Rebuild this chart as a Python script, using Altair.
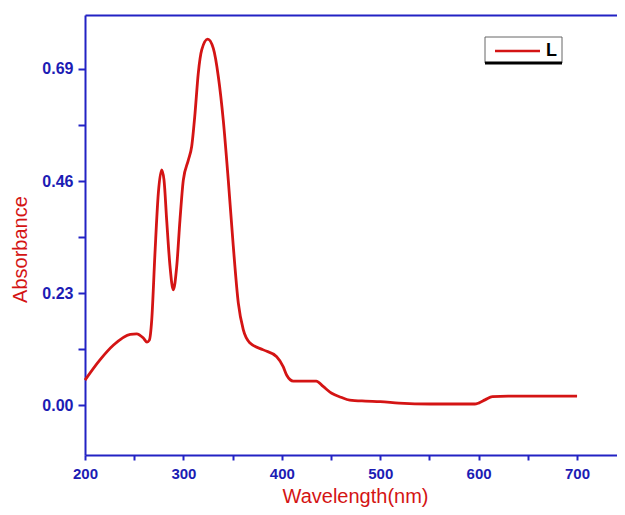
import altair as alt
import pandas as pd

wavelength = [200, 215, 229, 246, 252.5, 259, 263, 265.4, 267.8, 271.1, 274.5, 277.9, 280.3,
              283, 286.4, 289.7, 293.2, 296.5, 299.9, 305, 308.4, 311.8, 315.1, 318.6, 324.7,
              330.4, 335.5, 340.5, 345.6, 350.7, 355.8, 360.9, 367.7, 381.2, 394.8, 401.5, 405,
              411.7, 435, 442, 450.7, 460, 469, 485, 500, 519, 551, 596, 600, 607, 614, 630, 700]
absorbance = [0.052, 0.093, 0.124, 0.146, 0.147, 0.139, 0.130, 0.134, 0.175, 0.312, 0.435, 0.483, 0.462,
              0.380, 0.285, 0.237, 0.285, 0.380, 0.462, 0.503, 0.531, 0.599, 0.681, 0.729, 0.751,
              0.732, 0.674, 0.585, 0.462, 0.326, 0.210, 0.155, 0.128, 0.114, 0.100, 0.079, 0.062,
              0.050, 0.050, 0.039, 0.025, 0.017, 0.011, 0.009, 0.008, 0.005, 0.003, 0.003, 0.005, 0.012, 0.018, 0.019, 0.019]
series = ["L"] * len(wavelength)
legend_labels = ["L"]

x_ticks = [200, 250, 300, 350, 400, 450, 500, 550, 600, 650, 700]
y_ticks = [0, 0.115, 0.23, 0.345, 0.46, 0.575, 0.69]

df = pd.DataFrame({"wl": wavelength, "A": absorbance, "s": series})
leg_df = pd.DataFrame({"s": legend_labels})

BLUE = "#2222c4"
LABEL_BLUE = "#1c1cb4"
RED = "#d41414"

xscale = alt.Scale(domain=[200, 740.6], nice=False, zero=False)
yscale = alt.Scale(domain=[-0.1015, 0.8005], nice=False, zero=False)

base = alt.Chart(df)

line = base.mark_line(interpolate="monotone", strokeWidth=2.8, color=RED).encode(
    x=alt.X("wl:Q", scale=xscale,
            axis=alt.Axis(values=x_ticks, title="Wavelength(nm)",
                          labelExpr="datum.value % 100 == 0 ? datum.label : ''",
                          format="d", tickSize=5, labelPadding=6, labelFontSize=15,
                          labelFlush=False, labelOverlap=False,
                          titleX=270, titleY=41, titleBaseline="middle", titleAlign="center")),
    y=alt.Y("A:Q", scale=yscale,
            axis=alt.Axis(values=y_ticks, title="Absorbance",
                          labelExpr="round(datum.value/0.115) % 2 == 0 ? format(datum.value, '.2f') : ''",
                          tickSize=7, labelPadding=5, labelFontSize=16,
                          labelFlush=False, labelOverlap=False,
                          titleX=-65, titleY=234, titleBaseline="middle", titleAlign="center",
                          titleAngle=270)),
)

top = base.mark_point(opacity=0).encode(
    x=alt.X("wl:Q", scale=xscale,
            axis=alt.Axis(orient="top", labels=False, ticks=False, title=None, domain=True)),
)

leg = alt.Chart(leg_df)
box = leg.mark_rect(fill="white", stroke="#666666", strokeWidth=1).encode(
    x=alt.value(400), x2=alt.value(477), y=alt.value(22), y2=alt.value(48))
shadow = leg.mark_rule(color="black", strokeWidth=3).encode(
    x=alt.value(400), x2=alt.value(477), y=alt.value(48))
leg_line = leg.mark_rule(color=RED, strokeWidth=2.5).encode(
    x=alt.value(410), x2=alt.value(455), y=alt.value(36))
leg_text = leg.mark_text(align="left", baseline="middle", fontSize=18, fontWeight="bold",
                         font="Liberation Sans", color="black").encode(
    x=alt.value(461), y=alt.value(36), text="s:N")

chart = alt.layer(line, top, box, shadow, leg_line, leg_text).resolve_axis(
    x="independent"
).properties(
    width=532, height=440,
    autosize=alt.AutoSizeParams(type="none"),
    padding={"left": 77, "top": 7, "right": 0, "bottom": 52},
).configure_view(
    stroke=None
).configure_axis(
    domainColor=BLUE, domainWidth=2, tickColor=BLUE, tickWidth=2,
    labelColor=LABEL_BLUE, labelFont="Liberation Sans", labelFontWeight="bold",
    titleColor=RED, titleFont="Liberation Sans", titleFontWeight="normal", titleFontSize=20,
    grid=False
)

chart.save("out.html", embed_options={"renderer": "svg", "actions": False})
